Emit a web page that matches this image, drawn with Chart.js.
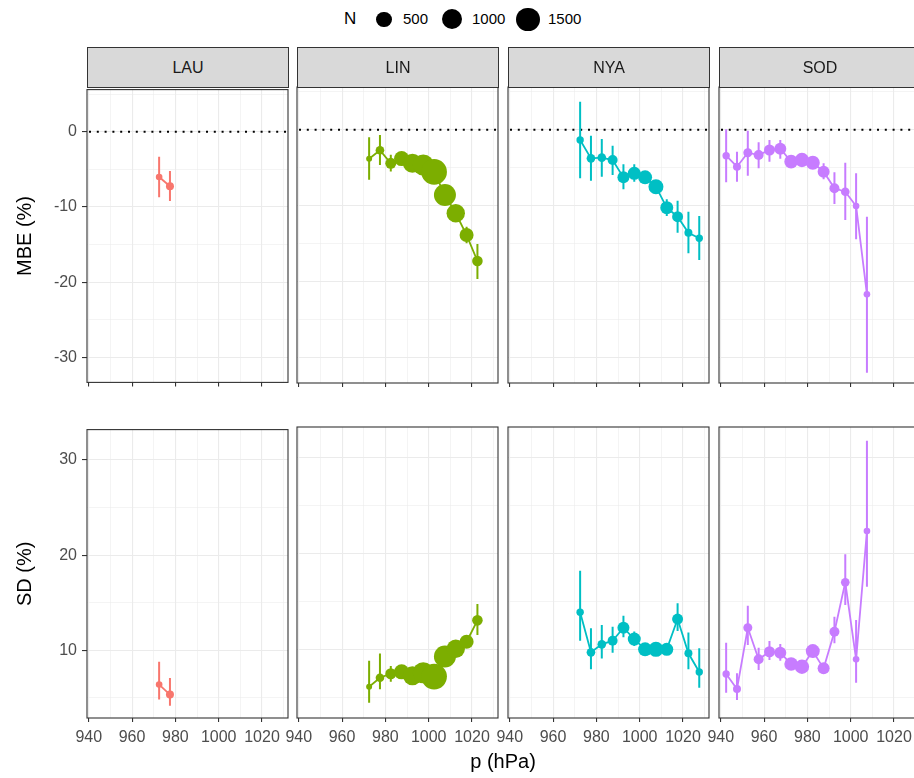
<!DOCTYPE html>
<html>
<head>
<meta charset="utf-8">
<title>MBE and SD by pressure bin</title>
<script src="https://cdn.jsdelivr.net/npm/chart.js@4.4.1/dist/chart.umd.min.js"></script>
<style>
  body { margin: 0; background: #fff; width: 914px; height: 778px; overflow: hidden; position: relative;
         font-family: "Liberation Sans", Arial, Helvetica, sans-serif; }
  canvas { position: absolute; }
  .strip { position: absolute; background: #d9d9d9; border: 1.1px solid #333; box-sizing: border-box;
           color: #1a1a1a; font-size: 16px; display: flex; align-items: center; justify-content: center; }
  .legend-title { position: absolute; font-size: 17px; color: #000; }
  .legend-key { position: absolute; background: #000; border-radius: 50%; }
  .legend-label { position: absolute; font-size: 15px; color: #000; }
  .xtitle { position: absolute; font-size: 20px; color: #000; width: 200px; text-align: center; }
</style>
</head>
<body>
<script>
// stations and their colours
const stations = ['LAU', 'LIN', 'NYA', 'SOD'];
const colors = ['#F8766D', '#7CAE00', '#00BFC4', '#C77CFF'];

// pressure bin centres (hPa), sample counts, MBE and SD with their ranges (%)
const lauP = [972.5, 977.5];
const lauN = [22, 40];
const lauMbe = [-6.0, -7.24];
const lauMbeLo = [-8.7, -9.2];
const lauMbeHi = [-3.3, -5.2];
const lauSd = [6.4, 5.35];
const lauSdLo = [4.83, 4.17];
const lauSdHi = [8.8, 7.1];

const linP = [972.5, 977.5, 982.5, 987.5, 992.5, 997.5, 1002.5, 1007.5, 1012.5, 1017.5, 1022.5];
const linN = [20, 55, 145, 430, 870, 1150, 1950, 1300, 790, 340, 125];
const linMbe = [-3.82, -2.7, -4.42, -3.8, -4.4, -4.65, -5.55, -8.6, -11.0, -13.86, -17.28];
const linMbeLo = [-6.6, -4.64, -5.5, -4.5, -5.0, -5.2, -6.2, -9.4, -12.0, -14.95, -19.64];
const linMbeHi = [-1.0, -0.7, -3.3, -3.1, -3.8, -4.1, -4.9, -7.8, -10.0, -12.76, -15.04];
const linSd = [6.15, 7.08, 7.5, 7.7, 7.3, 7.6, 7.2, 9.3, 10.1, 10.83, 13.06];
const linSdLo = [4.48, 5.88, 6.67, 7.1, 6.8, 7.1, 6.7, 8.7, 9.4, 10.2, 11.53];
const linSdHi = [8.85, 9.62, 8.3, 8.4, 7.8, 8.1, 7.7, 9.9, 10.8, 11.4, 14.76];

const nyaP = [972.5, 977.5, 982.5, 987.5, 992.5, 997.5, 1002.5, 1007.5, 1012.5, 1017.5, 1022.5, 1027.5];
const nyaN = [30, 55, 55, 100, 200, 265, 340, 425, 265, 145, 40, 30];
const nyaMbe = [-1.36, -3.77, -3.68, -3.99, -6.27, -5.74, -6.27, -7.5, -10.26, -11.45, -13.55, -14.29];
const nyaMbeLo = [-6.4, -6.7, -6.18, -5.96, -7.84, -6.84, -7.0, -8.2, -11.36, -13.55, -16.27, -17.15];
const nyaMbeHi = [3.68, -0.79, -1.22, -2.1, -4.55, -4.55, -5.5, -6.8, -9.16, -9.34, -10.8, -11.36];
const nyaSd = [13.9, 9.73, 10.56, 10.94, 12.29, 11.11, 10.04, 10.04, 10.04, 13.2, 9.63, 7.68];
const nyaSdLo = [10.94, 7.96, 9.1, 9.69, 11.29, 10.4, 9.5, 9.5, 9.5, 11.95, 7.96, 6.04];
const nyaSdHi = [18.23, 12.23, 12.57, 12.4, 13.54, 11.9, 10.6, 10.6, 10.6, 14.83, 11.8, 10.15];

const sodP = [942.5, 947.5, 952.5, 957.5, 962.5, 967.5, 972.5, 977.5, 982.5, 987.5, 992.5, 997.5, 1002.5, 1007.5];
const sodN = [30, 40, 65, 100, 145, 200, 310, 370, 340, 200, 100, 55, 22, 22];
const sodMbe = [-3.42, -4.87, -3.03, -3.33, -2.67, -2.5, -4.2, -3.99, -4.34, -5.52, -7.71, -8.16, -10.04, -21.66];
const sodMbeLo = [-6.92, -6.84, -6.05, -5.08, -4.2, -3.82, -5.0, -4.7, -5.1, -6.53, -9.78, -11.88, -14.42, -31.97];
const sodMbeHi = [0.05, -2.89, -0.13, -1.66, -1.36, -1.36, -3.4, -3.3, -3.6, -4.42, -5.61, -4.34, -5.74, -11.45];
const sodSd = [7.47, 5.91, 12.29, 9.0, 9.79, 9.69, 8.51, 8.23, 9.86, 8.06, 11.88, 17.02, 9.0, 22.36];
const sodSdLo = [5.52, 4.76, 10.49, 7.89, 8.93, 8.85, 7.9, 7.6, 9.2, 7.5, 10.67, 14.66, 6.56, 16.56];
const sodSdHi = [10.73, 7.54, 14.58, 10.21, 10.9, 10.59, 9.1, 8.8, 10.5, 8.6, 13.44, 19.94, 13.09, 31.77];

// axes
const xRange = [939.2, 1032];
const xTicks = [940, 950, 960, 970, 980, 990, 1000, 1010, 1020, 1030];
const xLabels = [940, 960, 980, 1000, 1020];
const mbeRange = [-33.33, 5.62];
const mbeTicks = [-30, -25, -20, -15, -10, -5, 0, 5];
const mbeLabels = [-30, -20, -10, 0];
const sdRange = [2.89, 33.2];
const sdTicks = [5, 10, 15, 20, 25, 30];
const sdLabels = [10, 20, 30];
const legendN = [500, 1000, 1500];

const rows = [
  { title: 'MBE (%)', range: mbeRange, ticks: mbeTicks, labels: mbeLabels, zero: true,
    series: [[lauMbe, lauMbeLo, lauMbeHi], [linMbe, linMbeLo, linMbeHi], [nyaMbe, nyaMbeLo, nyaMbeHi], [sodMbe, sodMbeLo, sodMbeHi]] },
  { title: 'SD (%)', range: sdRange, ticks: sdTicks, labels: sdLabels, zero: false,
    series: [[lauSd, lauSdLo, lauSdHi], [linSd, linSdLo, linSdHi], [nyaSd, nyaSdLo, nyaSdHi], [sodSd, sodSdLo, sodSdHi]] }
];
const pressures = [lauP, linP, nyaP, sodP];
const counts = [lauN, linN, nyaN, sodN];

// panel layout in page pixels
const panelLefts = [87, 297, 508, 719];
const panelW = 201;
const rowTops = [87, 427];
const rowHeights = [296, 291];
const PAD_T = 12;

// point radius grows with the square root of the sample count
const N_MIN = 20, N_MAX = 2000, R_MIN = 3, R_MAX = 12.95;
function sizeOf(n) {
  return R_MIN + (R_MAX - R_MIN) * Math.sqrt(Math.max(n - N_MIN, 0) / (N_MAX - N_MIN));
}

Chart.defaults.font.family = '"Liberation Sans", Arial, Helvetica, sans-serif';

// dark panel border plus the dotted zero reference
const panelFrame = {
  id: 'panelFrame',
  beforeDatasetsDraw(chart, args, opts) {
    if (!opts.zeroLine) return;
    const ctx = chart.ctx;
    const { left, right } = chart.chartArea;
    const y = chart.scales.y.getPixelForValue(0);
    ctx.save();
    ctx.strokeStyle = '#000';
    ctx.lineWidth = 2;
    ctx.setLineDash([2, 5.8]);
    ctx.beginPath();
    ctx.moveTo(left + 2, y);
    ctx.lineTo(right, y);
    ctx.stroke();
    ctx.restore();
  },
  afterDatasetsDraw(chart) {
    const ctx = chart.ctx;
    const { left, top, width, height } = chart.chartArea;
    ctx.save();
    ctx.strokeStyle = '#333';
    ctx.lineWidth = 1.1;
    ctx.strokeRect(left, top, width, height);
    ctx.restore();
  }
};

function errorBars(p, lo, hi) {
  const pts = [];
  p.forEach((x, i) => {
    pts.push({ x, y: lo[i] }, { x, y: hi[i] }, { x, y: null });
  });
  return pts;
}

function makePanel(r, c) {
  const row = rows[r];
  const isLeft = c === 0;
  const isBottom = r === 1;
  const padL = isLeft ? 87 : 20;
  const padR = 20;
  const padB = isBottom ? 50 : 14;
  const h = rowHeights[r];

  const canvas = document.createElement('canvas');
  canvas.width = padL + panelW + padR;
  canvas.height = PAD_T + h + padB;
  canvas.style.left = (panelLefts[c] - padL) + 'px';
  canvas.style.top = (rowTops[r] - PAD_T) + 'px';
  document.body.appendChild(canvas);

  const p = pressures[c];
  const n = counts[c];
  const [vals, lo, hi] = row.series[c];
  const color = colors[c];

  new Chart(canvas, {
    type: 'scatter',
    data: {
      datasets: [
        {
          data: p.map((x, i) => ({ x, y: vals[i] })),
          showLine: true,
          borderColor: color,
          backgroundColor: color,
          borderWidth: 1.8,
          pointRadius: ctx => sizeOf(n[ctx.dataIndex]),
          pointHoverRadius: ctx => sizeOf(n[ctx.dataIndex]),
          pointBorderWidth: 0,
          pointBackgroundColor: color
        },
        {
          data: errorBars(p, lo, hi),
          showLine: true,
          spanGaps: false,
          borderColor: color,
          borderWidth: 2,
          pointRadius: 0,
          pointHoverRadius: 0
        }
      ]
    },
    options: {
      responsive: false,
      animation: false,
      events: [],
      layout: { autoPadding: false, padding: { top: PAD_T, right: padR, left: 0, bottom: 0 } },
      plugins: {
        legend: { display: false },
        tooltip: { enabled: false },
        panelFrame: { zeroLine: row.zero }
      },
      scales: {
        x: {
          type: 'linear',
          min: xRange[0],
          max: xRange[1],
          afterBuildTicks: s => { s.ticks = xTicks.map(v => ({ value: v })); },
          afterFit: s => { s.height = padB; },
          border: { display: false },
          grid: {
            color: '#EBEBEB',
            lineWidth: ctx => xLabels.includes(ctx.tick.value) ? 1.1 : 0.55,
            drawTicks: true,
            tickLength: 4,
            tickWidth: 1.1,
            tickColor: ctx => xLabels.includes(ctx.tick.value) ? '#333' : 'rgba(0,0,0,0)'
          },
          ticks: {
            display: isBottom,
            autoSkip: false,
            maxRotation: 0,
            padding: 6,
            color: '#4D4D4D',
            font: { size: 16 },
            callback: v => xLabels.includes(v) ? String(v) : ''
          }
        },
        y: {
          type: 'linear',
          min: row.range[0],
          max: row.range[1],
          afterBuildTicks: s => { s.ticks = row.ticks.map(v => ({ value: v })); },
          afterFit: s => { s.width = padL; },
          border: { display: false },
          title: {
            display: isLeft,
            text: row.title,
            color: '#000',
            font: { size: 20 },
            padding: { top: 13, bottom: 0 }
          },
          grid: {
            color: '#EBEBEB',
            lineWidth: ctx => row.labels.includes(ctx.tick.value) ? 1.1 : 0.55,
            drawTicks: isLeft,
            tickLength: 5,
            tickWidth: 1.1,
            tickColor: ctx => row.labels.includes(ctx.tick.value) ? '#333' : 'rgba(0,0,0,0)'
          },
          ticks: {
            display: isLeft,
            autoSkip: false,
            padding: 5,
            color: '#4D4D4D',
            font: { size: 16 },
            callback: v => row.labels.includes(v) ? String(v) : ''
          }
        }
      }
    },
    plugins: [panelFrame]
  });
}

for (let r = 0; r < rows.length; r++) {
  for (let c = 0; c < stations.length; c++) makePanel(r, c);
}

// facet strips above the top row
stations.forEach((name, c) => {
  const d = document.createElement('div');
  d.className = 'strip';
  d.style.left = panelLefts[c] + 'px';
  d.style.width = (panelW + 1) + 'px';
  d.style.top = '47px';
  d.style.height = '41px';
  d.textContent = name;
  document.body.appendChild(d);
});

// size legend
const legTitle = document.createElement('div');
legTitle.className = 'legend-title';
legTitle.textContent = 'N';
legTitle.style.left = '344px';
legTitle.style.top = '9px';
document.body.appendChild(legTitle);
const keyX = [384, 452, 528];
const labelX = [403, 472, 548];
legendN.forEach((v, i) => {
  const rad = sizeOf(v);
  const k = document.createElement('div');
  k.className = 'legend-key';
  k.style.width = k.style.height = (2 * rad) + 'px';
  k.style.left = (keyX[i] - rad) + 'px';
  k.style.top = (19.5 - rad) + 'px';
  document.body.appendChild(k);
  const t = document.createElement('div');
  t.className = 'legend-label';
  t.textContent = String(v);
  t.style.left = labelX[i] + 'px';
  t.style.top = '10px';
  document.body.appendChild(t);
});

const xt = document.createElement('div');
xt.className = 'xtitle';
xt.textContent = 'p (hPa)';
xt.style.left = '403px';
xt.style.top = '750px';
document.body.appendChild(xt);
</script>
</body>
</html>
